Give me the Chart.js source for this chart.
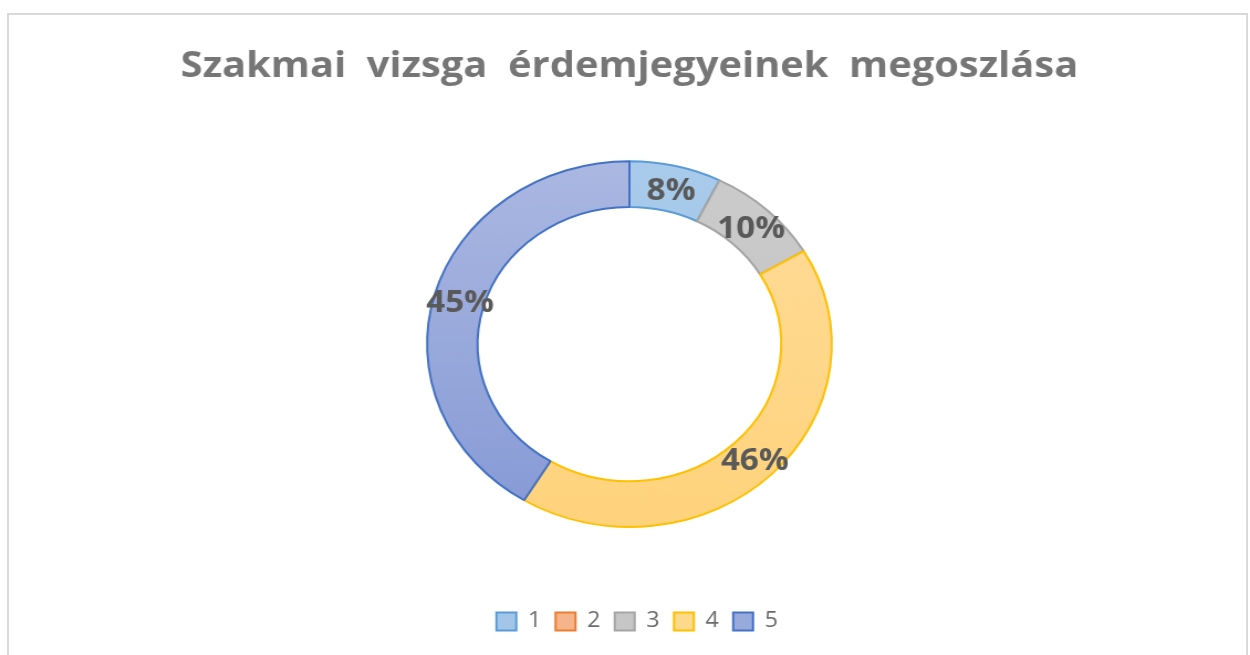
<!DOCTYPE html>
<html>
<head>
<meta charset="utf-8">
<title>Szakmai vizsga érdemjegyeinek megoszlása</title>
<script src="https://cdn.jsdelivr.net/npm/chart.js@4/dist/chart.umd.min.js"></script>
<style>
  html, body { margin: 0; padding: 0; background: #fff; overflow: hidden; }
  #frame {
    position: absolute; left: 7px; top: 13px; width: 1241px; height: 700px;
    border: 2px solid #d9d9d9; box-sizing: border-box;
  }
  #chart {
    position: absolute; left: 0; top: 0;
    transform: scaleX(1.1062); transform-origin: 0 0;
  }
</style>
</head>
<body>
<div id="frame"></div>
<canvas id="chart" width="1130" height="655"></canvas>
<script>
const grades = ['1', '2', '3', '4', '5'];
const counts = [8, 0, 10, 46, 45];
const fillTop = ['#a9cbeb', '#f6bb94', '#cbcbcb', '#ffdc9a', '#aab8e1'];
const fillBottom = ['#98c0e5', '#f4ad7c', '#c2c2c2', '#ffd37c', '#8699d5'];
const borderColors = ['#5b9bd5', '#ed7d31', '#a5a5a5', '#ffc000', '#4472c4'];
const legendFills = ['#a3c6e8', '#f5b48a', '#c6c6c6', '#ffd98b', '#98aadb'];

const fontFamily = '"Open Sans", "DejaVu Sans", sans-serif';

// data labels drawn in the middle of each ring segment
const ringLabels = {
  id: 'ringLabels',
  afterLayout(chart) {
    // legend row sits a bit right of centre in the original
    chart.legend.left += 7;
    chart.legend.right += 7;
  },
  afterDatasetsDraw(chart) {
    const ctx = chart.ctx;
    const meta = chart.getDatasetMeta(0);
    ctx.save();
    ctx.font = 'bold 30px ' + fontFamily;
    ctx.fillStyle = '#595959';
    ctx.textAlign = 'center';
    ctx.textBaseline = 'middle';
    meta.data.forEach((arc, i) => {
      if (!counts[i]) return;
      const p = arc.getCenterPoint();
      ctx.fillText(counts[i] + '%', p.x + 1, p.y + 3);
    });
    ctx.restore();
  }
};

function gradientFill(context) {
  const chart = context.chart;
  const area = chart.chartArea;
  const i = context.dataIndex;
  if (!area) return fillTop[i];
  const g = chart.ctx.createLinearGradient(0, area.top, 0, area.bottom);
  g.addColorStop(0, fillTop[i]);
  g.addColorStop(1, fillBottom[i]);
  return g;
}

new Chart(document.getElementById('chart'), {
  type: 'doughnut',
  data: {
    labels: grades,
    datasets: [{
      data: counts,
      backgroundColor: gradientFill,
      borderColor: borderColors,
      borderWidth: 2
    }]
  },
  options: {
    responsive: false,
    animation: false,
    cutout: '75%',
    layout: { padding: { left: 8, right: 0, top: 0, bottom: 13 } },
    plugins: {
      title: {
        display: true,
        text: 'Szakmai  vizsga  érdemjegyeinek  megoszlása',
        color: '#767676',
        font: { family: fontFamily, size: 36, weight: 'bold' },
        padding: { top: 45, bottom: 72 }
      },
      legend: {
        position: 'bottom',
        // empty legend title only used to keep space above the legend row
        title: {
          display: true,
          text: ' ',
          font: { size: 1, lineHeight: 1 },
          padding: { top: 0, bottom: 69 }
        },
        labels: {
          color: '#6b6b6b',
          font: { family: fontFamily, size: 21 },
          boxWidth: 18,
          boxHeight: 18,
          padding: 13,
          generateLabels: () => grades.map((g, i) => ({
            text: g,
            fillStyle: legendFills[i],
            strokeStyle: borderColors[i],
            lineWidth: 2,
            fontColor: '#6b6b6b',
            hidden: false,
            index: i
          }))
        }
      },
      tooltip: { enabled: false }
    }
  },
  plugins: [ringLabels]
});
</script>
</body>
</html>
